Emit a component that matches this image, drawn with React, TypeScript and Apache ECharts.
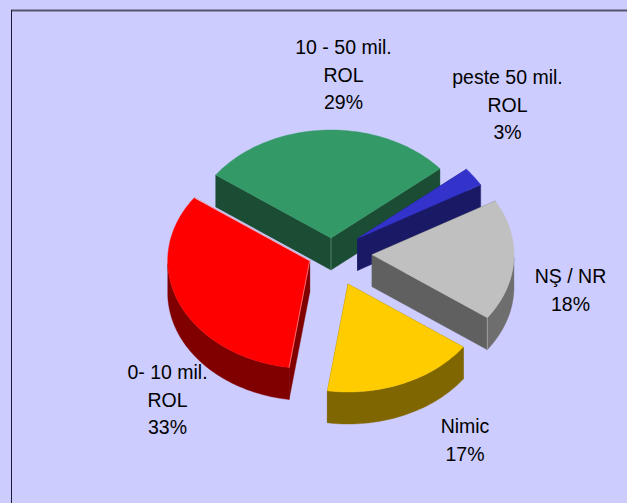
import React, { useEffect, useRef } from "react";
import * as echarts from "echarts";

// Data
const categories = ["10 - 50 mil.\nROL", "peste 50 mil.\nROL", "NŞ / NR", "Nimic", "0- 10 mil.\nROL"];
const values = [29.0, 2.8, 18.2, 17.4, 32.6];

// Styles
const topColors = ["#339966", "#3333CC", "#C0C0C0", "#FFCC00", "#FF0000"];
const cutColors = ["#1A4D33", "#191966", "#606060", "#806600", "#800000"];
const rimColors = ["#1A4D33", "#191966", "#6E6E6E", "#806600", "#800000"];
const background = "#CCCCFF";

// Layout of the projected pie
const RX = 142;
const RY = 108;
const DEPTH = 32;
const START_DEG = -54.3;
const apexX = [331, 357.5, 372, 348, 309.7];
const apexY = [238, 238.5, 254.7, 284, 260.7];
const labelX = [343.5, 507.5, 570.5, 465, 167.5];
const labelY = [74.5, 104.5, 290, 440, 399.5];

function renderSlice(params: any, api: any) {
  const i = params.dataIndex;
  const value = api.value(0);
  const total = values.reduce((a, b) => a + b, 0);
  const before = values.slice(0, i).reduce((a, b) => a + b, 0);
  const a0 = START_DEG + (before / total) * 360;
  const a1 = a0 + (value / total) * 360;
  const cx = apexX[i];
  const cy = apexY[i];
  const at = (deg: number): number[] => {
    const r = (deg * Math.PI) / 180;
    return [cx + RX * Math.sin(r), cy - RY * Math.cos(r)];
  };
  const down = (p: number[]) => [p[0], p[1] + DEPTH];
  const arc: number[][] = [];
  const steps = Math.max(4, Math.ceil((a1 - a0) / 1.5));
  for (let k = 0; k <= steps; k++) arc.push(at(a0 + ((a1 - a0) * k) / steps));

  const children: any[] = [];
  const wall = (pts: number[][], fill: string) =>
    children.push({
      type: "polygon",
      shape: { points: [...pts, ...pts.map(down).reverse()] },
      style: { fill, stroke: fill, lineWidth: 0.4 },
    });
  const apex = [cx, cy];
  const last = arc[arc.length - 1];
  wall([apex, arc[0]], cutColors[i]);
  wall([apex, last], cutColors[i]);
  // Only the part of the rim that faces the viewer (90 to 270 degrees)
  const front = arc.filter((_, k) => {
    const deg = (((a0 + ((a1 - a0) * k) / steps) % 360) + 360) % 360;
    return deg >= 90 && deg <= 270;
  });
  if (front.length > 1) wall(front, rimColors[i]);
  children.push({
    type: "polygon",
    shape: { points: [apex, ...arc] },
    style: { fill: topColors[i], stroke: topColors[i], lineWidth: 0.4 },
  });
  const edgeLine = (p: number[], q: number[], stroke: string) =>
    children.push({
      type: "line",
      shape: { x1: p[0], y1: p[1], x2: q[0], y2: q[1] },
      style: { stroke, lineWidth: 0.8 },
    });
  if (i === 0) edgeLine(apex, down(apex), "#5F8F78");
  if (i === 2) edgeLine(last, down(last), "#A8A8A8");
  if (i === 4) edgeLine(apex, last, "#E8E8FF");
  if (i === 4) edgeLine(apex, arc[0], "#FF8080");
  const pct = Math.round((value / total) * 100) + "%";
  children.push({
    type: "text",
    style: {
      x: labelX[i],
      y: labelY[i],
      text: categories[i] + "\n" + pct,
      fill: "#000000",
      font: '19.5px "Liberation Sans", Arial, sans-serif',
      lineHeight: 27.5,
      align: "center",
      verticalAlign: "middle",
    },
  });
  return { type: "group", children };
}

export default function App() {
  const ref = useRef<HTMLDivElement>(null);
  useEffect(() => {
    document.body.style.margin = "0";
    const chart = echarts.init(ref.current!, undefined, { renderer: "svg" });
    chart.setOption({
      animation: false,
      backgroundColor: background,
      graphic: [
        { type: "line", shape: { x1: 11, y1: 10.5, x2: 627, y2: 10.5 }, style: { stroke: "#55556E", lineWidth: 2 } },
        { type: "line", shape: { x1: 11.5, y1: 10, x2: 11.5, y2: 503 }, style: { stroke: "#1A1A33", lineWidth: 1 } },
      ],
      series: [
        {
          type: "custom",
          coordinateSystem: "none",
          silent: true,
          renderItem: renderSlice,
          data: values.map((v) => [v]),
        },
      ],
    });
    return () => chart.dispose();
  }, []);
  return <div ref={ref} style={{ width: 627, height: 503 }} />;
}
